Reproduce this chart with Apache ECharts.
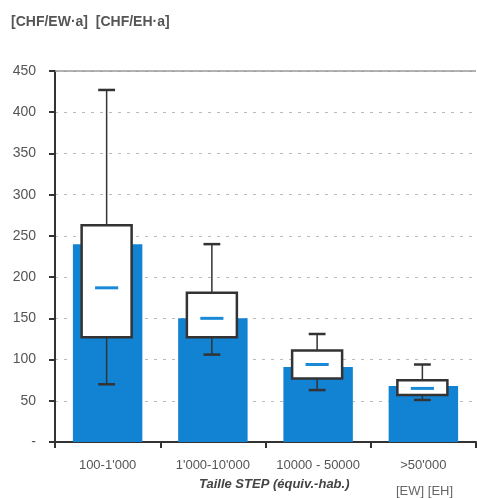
<!DOCTYPE html>
<html><head><meta charset="utf-8">
<script src="https://cdn.jsdelivr.net/npm/echarts@6/dist/echarts.min.js"></script>
<style>html,body{margin:0;padding:0;background:#fff}#c{width:477px;height:498px}</style>
</head><body><div id="c"></div>
<script>
const categories = ["100-1'000", "1'000-10'000", "10000 - 50000", ">50'000"];
const barValues = [240, 150, 91, 68];
const whiskerLow = [70, 106, 63, 51];
const boxQ1 = [127, 127, 77, 57];
const boxMedian = [187, 150, 94, 65];
const boxQ3 = [263, 181, 111, 75];
const whiskerHigh = [427, 240, 131, 94];
const yTicks = [0, 50, 100, 150, 200, 250, 300, 350, 400, 450];

const boxData = categories.map((c, i) => [i, whiskerLow[i], boxQ1[i], boxMedian[i], boxQ3[i], whiskerHigh[i]]);
const chart = echarts.init(document.getElementById('c'));
const font = "'Liberation Sans', Arial, sans-serif";
chart.setOption({
  animation: false,
  textStyle: {fontFamily: font},
  grid: {left: 55, right: 1, top: 71, bottom: 56},
  graphic: [
    {type: 'text', left: 11, top: 15, style: {text: '[CHF/EW·a]  [CHF/EH·a]', fill: '#555', font: 'bold 14px ' + font}},
    {type: 'text', left: 199, top: 478, style: {text: 'Taille STEP (équiv.-hab.)', fill: '#444', font: 'italic bold 13px ' + font}},
    {type: 'text', left: 396, top: 485, style: {text: '[EW] [EH]', fill: '#666', font: '13px ' + font}}
  ],
  xAxis: {
    type: 'category', data: categories,
    axisLine: {lineStyle: {color: '#333', width: 2}},
    axisTick: {show: true, length: 6, lineStyle: {color: '#333', width: 2}},
    axisLabel: {color: '#555', fontSize: 13, margin: 17, fontFamily: font, interval: 0, hideOverlap: false}
  },
  yAxis: {
    type: 'value', min: 0, max: 450, interval: 50,
    axisLine: {show: true, lineStyle: {color: '#333', width: 2}},
    axisTick: {show: true, length: 6, lineStyle: {color: '#333', width: 2}},
    axisLabel: {color: '#555', fontSize: 14, margin: 19, fontFamily: font,
      formatter: v => v === 0 ? '-' : String(v)},
    splitLine: {show: true, lineStyle: {color: '#bbb', type: [3, 6], width: 1}}
  },
  series: [
    {type: 'bar', z: 2, data: barValues, barWidth: '66%', itemStyle: {color: '#1283d3'},
     markLine: {silent: true, symbol: 'none', label: {show: false},
       lineStyle: {color: '#999', type: 'solid', width: 1.5}, data: [{yAxis: 450}]}},
    {type: 'custom', z: 10, data: boxData,
     renderItem: function (params, api) {
       const idx = api.value(0);
       const pLow = api.coord([idx, api.value(1)]);
       const pQ1 = api.coord([idx, api.value(2)]);
       const pMed = api.coord([idx, api.value(3)]);
       const pQ3 = api.coord([idx, api.value(4)]);
       const pHigh = api.coord([idx, api.value(5)]);
       const bw = api.size([1, 0])[0];
       const boxW = bw * 0.475, capW = bw * 0.16, medW = bw * 0.22;
       const x = pMed[0] - 1;
       const stroke = {stroke: '#333', lineWidth: 1.5};
       return {type: 'group', children: [
         {type: 'line', shape: {x1: x, y1: pHigh[1], x2: x, y2: pQ3[1]}, style: stroke},
         {type: 'line', shape: {x1: x, y1: pQ1[1], x2: x, y2: pLow[1]}, style: stroke},
         {type: 'line', shape: {x1: x - capW / 2, y1: pHigh[1], x2: x + capW / 2, y2: pHigh[1]}, style: {stroke: '#333', lineWidth: 2.5}},
         {type: 'line', shape: {x1: x - capW / 2, y1: pLow[1], x2: x + capW / 2, y2: pLow[1]}, style: {stroke: '#333', lineWidth: 2.5}},
         {type: 'rect', z2: 1, shape: {x: x - boxW / 2, y: pQ3[1], width: boxW, height: pQ1[1] - pQ3[1]},
          style: {fill: '#fff', stroke: '#333', lineWidth: 2.5}},
         {type: 'line', z2: 2, shape: {x1: x - medW / 2, y1: pMed[1], x2: x + medW / 2, y2: pMed[1]}, style: {stroke: '#1a8ad8', lineWidth: 3}}
       ]};
     }}
  ]
});
</script></body></html>
